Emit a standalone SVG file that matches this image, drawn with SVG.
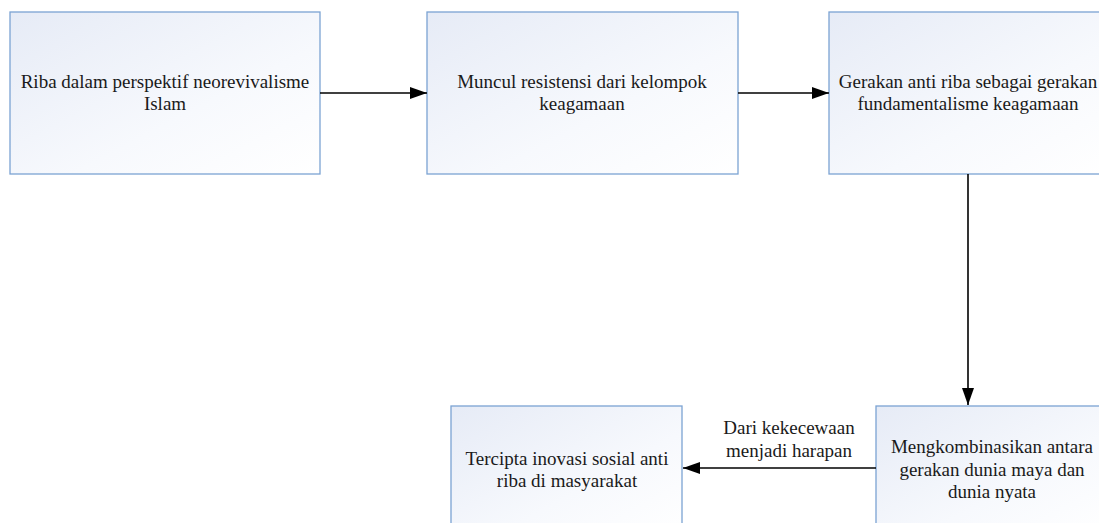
<svg xmlns="http://www.w3.org/2000/svg" width="1099" height="523" viewBox="0 0 1099 523">
<style>
.box{fill:url(#g);stroke:#7ba3d3;stroke-width:1.3}
.t{font-family:"Liberation Serif","Times New Roman",serif;font-size:19px;fill:#1a1a1a;text-anchor:middle}
.c{stroke:#000;stroke-width:1.6;fill:none}
</style>
<defs>
<linearGradient id="g" x1="0" y1="0" x2="1" y2="1">
<stop offset="0" stop-color="#e6ebf6"/>
<stop offset="0.6" stop-color="#f7f9fd"/>
<stop offset="1" stop-color="#ffffff"/>
</linearGradient>
<marker id="a" viewBox="0 0 17 12" refX="17" refY="6" markerWidth="17" markerHeight="12" markerUnits="userSpaceOnUse" orient="auto">
<path d="M0,0 L17,6 L0,12 z" fill="#000"/>
</marker>
</defs>
<rect width="1099" height="523" fill="#fff"/>
<g id="n1"><rect class="box" x="10" y="12" width="310" height="162"/>
<text class="t" x="165" y="88">Riba dalam perspektif neorevivalisme</text>
<text class="t" x="165" y="110">Islam</text></g>
<g id="n2"><rect class="box" x="427" y="12" width="311" height="162"/>
<text class="t" x="582" y="88">Muncul resistensi dari kelompok</text>
<text class="t" x="582" y="110">keagamaan</text></g>
<g id="n3"><rect class="box" x="829" y="12" width="278" height="162"/>
<text class="t" x="968" y="88">Gerakan anti riba sebagai gerakan</text>
<text class="t" x="968" y="110">fundamentalisme keagamaan</text></g>
<g id="n4"><rect class="box" x="876" y="406" width="232" height="130"/>
<text class="t" x="992" y="453">Mengkombinasikan antara</text>
<text class="t" x="992" y="476">gerakan dunia maya dan</text>
<text class="t" x="992" y="498">dunia nyata</text></g>
<g id="n5"><rect class="box" x="451" y="406" width="231" height="130"/>
<text class="t" x="567" y="465">Tercipta inovasi sosial anti</text>
<text class="t" x="567" y="487">riba di masyarakat</text></g>
<g id="connectors">
<line class="c" x1="320" y1="93" x2="427" y2="93" marker-end="url(#a)"/>
<line class="c" x1="738" y1="93" x2="829" y2="93" marker-end="url(#a)"/>
<line class="c" x1="968" y1="174" x2="968" y2="405" marker-end="url(#a)"/>
<line class="c" x1="876" y1="468" x2="683" y2="468" marker-end="url(#a)"/>
<text class="t" x="789" y="434">Dari kekecewaan</text>
<text class="t" x="789" y="457">menjadi harapan</text>
</g>
</svg>
